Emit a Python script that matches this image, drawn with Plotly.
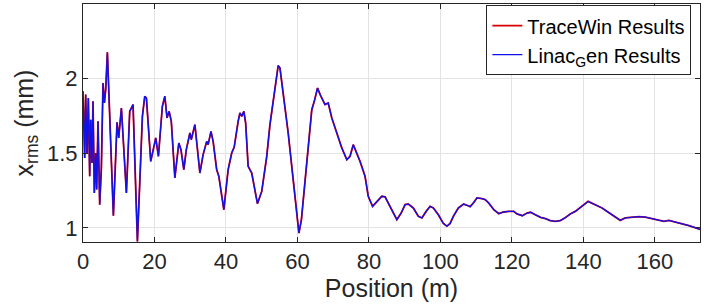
import plotly.graph_objects as go

position_m = [
    0.0, 0.47, 0.75, 1.12, 1.49, 1.87, 2.15, 2.52, 2.80, 3.17, 3.55, 3.83, 4.2, 4.67, 5.14,
    5.6, 5.98, 6.35, 6.82, 8.5, 9.52, 9.99, 10.74, 12.14, 13.07, 14.0, 15.22, 16.62, 17.27,
    17.74, 18.95, 19.79, 20.35, 21.1, 22.2, 22.9, 23.5, 24.1, 24.7, 25.7, 26.8, 27.4, 28.2,
    28.9, 29.9, 30.3, 31.3, 32.7, 33.6, 34.6, 35.0, 35.8, 36.4, 37.4, 38.0, 39.4, 40.6, 41.6,
    42.3, 43.4, 43.9, 44.4, 45.0, 45.5, 46.2, 47.2, 48.8, 50.0, 51.4, 52.3, 53.2, 54.2, 54.6,
    55.1, 56.3, 57.4, 58.8, 60.4, 61.1, 62.6, 64.0, 64.7, 65.6, 66.4, 67.7, 68.6, 69.6, 71.0,
    72.4, 73.8, 74.7, 75.6, 76.4, 77.5, 78.9, 79.8, 81.0, 82.2, 83.6, 84.5, 85.4, 86.7, 87.8,
    89.0, 90.1, 91.0, 92.4, 93.8, 94.8, 96.0, 97.1, 98.0, 99.4, 100.8, 101.8, 102.7, 103.6,
    105.0, 106.5, 107.4, 108.3, 109.2, 110.2, 111.6, 112.5, 113.5, 114.9, 116.3, 117.7, 119.1,
    120.5, 121.4, 122.9, 124.2, 125.2, 126.5, 128.0, 129.4, 130.7, 132.1, 133.5, 134.9, 136.3,
    137.7, 139.1, 140.1, 141.3, 142.4, 143.8, 145.2, 146.6, 147.9, 149.4, 150.3, 151.7, 153.6,
    155.5, 157.3, 159.2, 161.1, 162.5, 163.9, 165.8, 167.7, 169.5, 171.4, 172.6,
]

linacgen_xrms = [
    1.915, 1.468, 1.893, 1.502, 1.870, 1.346, 1.725, 1.435, 1.848, 1.234, 1.502, 1.257, 1.714, 1.156, 1.402,
    1.971, 1.837, 1.926, 2.176, 1.082, 1.707, 1.603, 1.803, 1.234, 1.781, 1.826, 0.910, 1.748, 1.882,
    1.870, 1.446, 1.547, 1.603, 1.480, 1.815, 1.882, 1.737, 1.781, 1.714, 1.335, 1.569, 1.525, 1.391,
    1.525, 1.636, 1.592, 1.692, 1.368, 1.491, 1.580, 1.558, 1.647, 1.580, 1.390, 1.346, 1.122, 1.390, 1.502,
    1.542, 1.714, 1.770, 1.748, 1.781, 1.703, 1.413, 1.368, 1.163, 1.245, 1.480, 1.692, 1.859, 2.036, 2.087,
    2.071, 1.859, 1.636, 1.324, 0.966, 1.056, 1.413, 1.792, 1.848, 1.937, 1.890, 1.826, 1.837, 1.737, 1.636,
    1.536, 1.457, 1.480, 1.558, 1.513, 1.446, 1.346, 1.212, 1.145, 1.178, 1.212, 1.208, 1.167, 1.100, 1.056,
    1.100, 1.156, 1.160, 1.134, 1.078, 1.067, 1.111, 1.145, 1.134, 1.089, 1.031, 1.012, 1.030, 1.078,
    1.134, 1.160, 1.152, 1.143, 1.167, 1.201, 1.196, 1.190, 1.167, 1.123, 1.096, 1.107, 1.111,
    1.111, 1.094, 1.082, 1.100, 1.105, 1.089, 1.071, 1.062, 1.049, 1.044, 1.049, 1.069, 1.094,
    1.111, 1.134, 1.156, 1.178, 1.167, 1.152, 1.134, 1.111, 1.089, 1.067, 1.051, 1.067, 1.073,
    1.076, 1.073, 1.062, 1.049, 1.044, 1.051, 1.040, 1.029, 1.015, 1.000, 0.990,
]

# TraceWin results overlap the LinacGen curve within line width in the picture
tracewin_xrms = list(linacgen_xrms)

x_ticks = [0, 20, 40, 60, 80, 100, 120, 140, 160]
y_ticks = [1, 1.5, 2]

FONT = "Liberation Sans, Arial, sans-serif"

fig = go.Figure()
fig.add_trace(go.Scatter(
    x=position_m, y=tracewin_xrms, mode="lines", name="TraceWin Results",
    line=dict(color="#d80000", width=1.8),
))
fig.add_trace(go.Scatter(
    x=position_m, y=linacgen_xrms, mode="lines", name="Linac<sub>G</sub>en Results",
    line=dict(color="#1010e8", width=1.3),
))

axis_common = dict(
    showline=True, linecolor="#262626", linewidth=1, mirror="ticks",
    ticks="inside", ticklen=5, tickcolor="#262626",
    showgrid=True, gridcolor="#e3e3e3", gridwidth=1, zeroline=False,
    tickfont=dict(family=FONT, size=22, color="#262626"),
    automargin=False,
)

fig.update_xaxes(
    range=[0, 172.6], tickvals=x_ticks, ticktext=[str(v) for v in x_ticks],
    title=dict(text="Position (m)", font=dict(family=FONT, size=25, color="#262626"), standoff=2),
    **axis_common,
)
fig.update_yaxes(
    range=[0.906, 2.5], tickvals=y_ticks, ticktext=["1", "1.5", "2"],
    title=dict(text="x<sub>rms</sub> (mm)", font=dict(family=FONT, size=25, color="#262626"), standoff=6),
    **axis_common,
)

fig.update_layout(
    width=704, height=308,
    margin=dict(l=83, r=4, t=4, b=66, autoexpand=False),
    paper_bgcolor="white", plot_bgcolor="white",
    font=dict(family=FONT, color="#262626"),
    legend=dict(
        x=0.986, y=0.995, xanchor="right", yanchor="top",
        bgcolor="white", bordercolor="#262626", borderwidth=1,
        font=dict(family=FONT, size=20, color="#000000"),
        tracegroupgap=0, itemwidth=30,
    ),
    showlegend=True,
)

fig.write_html(
    "out.html",
    config={"displayModeBar": False},
    post_script="document.body.style.margin='0px';document.body.style.overflow='hidden';",
)
